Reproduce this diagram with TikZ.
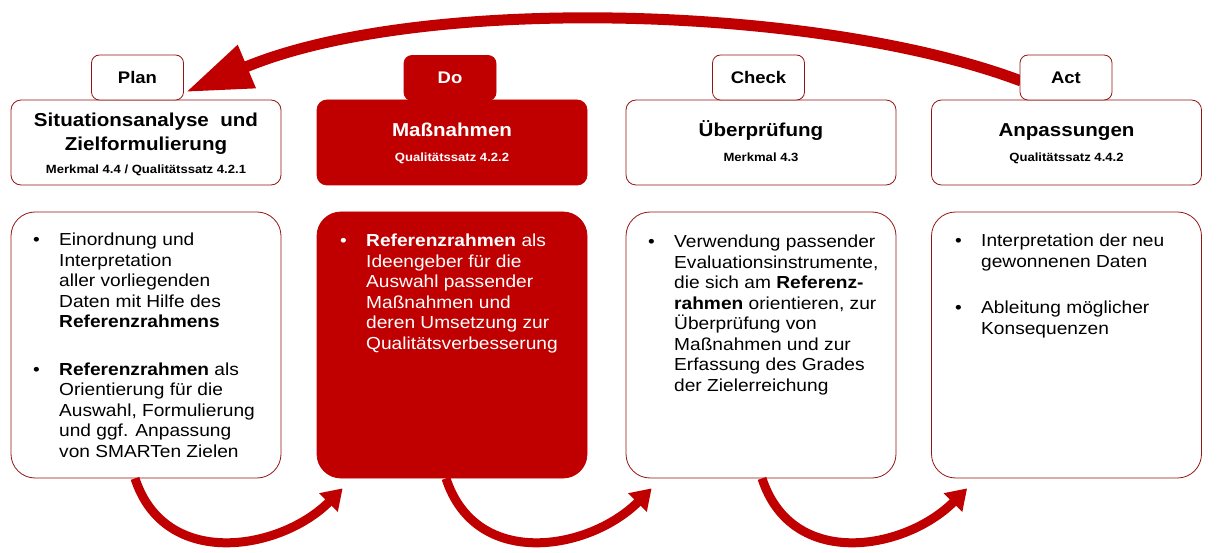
\documentclass[tikz,border=0pt]{standalone}
\usepackage{fontspec}
\setmainfont{Liberation Sans}[FakeStretch=1.1]
\usetikzlibrary{arrows.meta}
\definecolor{pdcared}{RGB}{192,0,0}
\definecolor{pdcaline}{RGB}{150,20,20}
\tikzset{
  tabbox/.style={draw=pdcaline,line width=0.8pt,fill=white,rounded corners=8pt,
    minimum width=92pt,minimum height=45pt,inner sep=0pt,
    font=\bfseries\fontsize{16.8}{18}\selectfont},
  headbox/.style={draw=pdcaline,line width=0.8pt,fill=white,rounded corners=10pt,
    minimum width=270pt,minimum height=85pt,inner sep=0pt},
  bodybox/.style={draw=pdcaline,line width=0.8pt,fill=white,rounded corners=24pt,
    minimum width=270pt,minimum height=266pt,inner sep=0pt},
  redbox/.style={fill=pdcared,draw=pdcared,text=white},
  headtitle/.style={inner sep=0pt,font=\bfseries\fontsize{18.7}{24}\selectfont},
  headsub/.style={inner sep=0pt,anchor=base,font=\bfseries\fontsize{11.9}{13}\selectfont},
  bullets/.style={inner sep=0pt,anchor=north west,font=\fontsize{17.4}{20.5}\selectfont},
  looparrow/.style={draw=pdcared,line width=9pt,-{Triangle[length=20pt,width=25pt]}},
  backarrow/.style={draw=pdcared,line width=11pt,-{Triangle[length=66pt,width=44pt]}},
}
\newcommand{\bul}{\textbullet}
\begin{document}
\begin{tikzpicture}[x=1pt,y=-1pt]
\useasboundingbox[fill=white] (0,0) rectangle (1218,553);

% Plan
\node[headbox] (planhead) at (146,142.5) {};
\node[bodybox] (planbody) at (146,345) {};
\node[headtitle,anchor=north] (plantitle) at (146,109.5)
  {\begin{tabular}{@{}c@{}}Situationsanalyse\ \ und\\Zielformulierung\end{tabular}};
\node[headsub] (plansub) at (146,174) {Merkmal 4.4 / Qualitätssatz 4.2.1};
\node[bullets] (plantext) at (33,231) {\begin{tabular}{@{}p{26pt}@{}l@{}}
\bul & Einordnung und\\
 & Interpretation\\
 & aller vorliegenden\\
 & Daten mit Hilfe des\\
 & \textbf{Referenzrahmens}\\[27pt]
\bul & \textbf{Referenzrahmen} als\\
 & Orientierung für die\\
 & Auswahl, Formulierung\\
 & und ggf. Anpassung\\
 & von SMARTen Zielen
\end{tabular}};

% Do
\node[headbox,redbox] (dohead) at (452,142.5) {};
\node[bodybox,redbox] (dobody) at (452,345) {};
\node[headtitle,anchor=base,text=white] (dotitle) at (452,137) {Maßnahmen};
\node[headsub,text=white] (dosub) at (452,162) {Qualitätssatz 4.2.2};
\node[bullets,text=white] (dotext) at (340,232) {\begin{tabular}{@{}p{26pt}@{}l@{}}
\bul & \textbf{Referenzrahmen} als\\
 & Ideengeber für die\\
 & Auswahl passender\\
 & Maßnahmen und\\
 & deren Umsetzung zur\\
 & Qualitätsverbesserung
\end{tabular}};

% Check
\node[headbox] (checkhead) at (761,142.5) {};
\node[bodybox] (checkbody) at (761,345) {};
\node[headtitle,anchor=base] (checktitle) at (761,137) {Überprüfung};
\node[headsub] (checksub) at (761,162) {Merkmal 4.3};
\node[bullets] (checktext) at (648,233) {\begin{tabular}{@{}p{26pt}@{}l@{}}
\bul & Verwendung passender\\
 & Evaluationsinstrumente,\\
 & die sich am \textbf{Referenz-}\\
 & \textbf{rahmen} orientieren, zur\\
 & Überprüfung von\\
 & Maßnahmen und zur\\
 & Erfassung des Grades\\
 & der Zielerreichung
\end{tabular}};

% Act
\node[headbox] (acthead) at (1066.5,142.5) {};
\node[bodybox] (actbody) at (1066.5,345) {};
\node[headtitle,anchor=base] (acttitle) at (1066.5,137) {Anpassungen};
\node[headsub] (actsub) at (1066.5,162) {Qualitätssatz 4.4.2};
\node[bullets] (acttext) at (955,232) {\begin{tabular}{@{}p{26pt}@{}l@{}}
\bul & Interpretation der neu\\
 & gewonnenen Daten\\[26pt]
\bul & Ableitung möglicher\\
 & Konsequenzen
\end{tabular}};

% Act back to Plan
\draw[backarrow] (1021,81) .. controls (820,5) and (420,-6) .. (186,92);

% tabs
\node[tabbox] (plantab) at (137.5,77.5) {Plan};
\node[tabbox,redbox] (dotab) at (450,78) {Do};
\node[tabbox] (checktab) at (758.5,77.5) {Check};
\node[tabbox] (acttab) at (1066,77.5) {Act};

% Plan -> Do -> Check -> Act
\draw[looparrow] ([xshift=-11pt]planbody.south) .. controls +(30,92) and +(-62,62)
  .. ([shift={(26pt,-10pt)}]dobody.south west);
\draw[looparrow] ([xshift=-6pt]dobody.south) .. controls +(30,92) and +(-62,62)
  .. ([shift={(26pt,-10pt)}]checkbody.south west);
\draw[looparrow] ([xshift=1pt]checkbody.south) .. controls +(30,92) and +(-62,62)
  .. ([shift={(36pt,-10pt)}]actbody.south west);
\end{tikzpicture}
\end{document}
